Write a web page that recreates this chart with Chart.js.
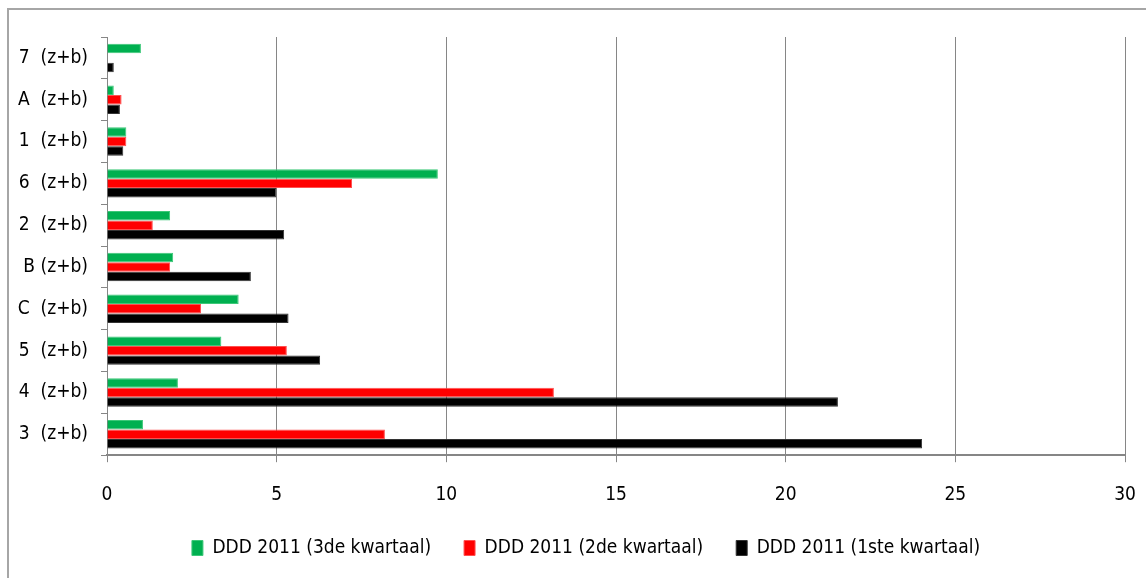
<!DOCTYPE html>
<html>
<head>
<meta charset="utf-8">
<script src="https://cdn.jsdelivr.net/npm/chart.js@4"></script>
<style>
  html, body { margin: 0; padding: 0; background: #ffffff; overflow: hidden; }
  #wrap { position: relative; width: 1146px; height: 578px; }
  #frame { position: absolute; left: 7px; top: 8px; width: 1200px; height: 640px;
           border-left: 2px solid #a6a6a6; border-top: 2px solid #a6a6a6; }
  canvas { position: absolute; left: 0; top: 0; }
</style>
</head>
<body>
<div id="wrap">
  <div id="frame"></div>
  <canvas id="c" width="1146" height="578"></canvas>
</div>
<script>
// Categories, listed from top to bottom of the chart
const categories = ['7  (z+b)', 'A  (z+b)', '1  (z+b)', '6  (z+b)', '2  (z+b)',
                    'B (z+b)', 'C  (z+b)', '5  (z+b)', '4  (z+b)', '3  (z+b)'];

// DDD per quarter of 2011
const ddd2011Q3 = [1.0, 0.2, 0.57, 9.75, 1.86, 1.95, 3.88, 3.37, 2.09, 1.06];
const ddd2011Q2 = [0, 0.43, 0.57, 7.22, 1.35, 1.86, 2.77, 5.3, 13.17, 8.19];
const ddd2011Q1 = [0.2, 0.38, 0.48, 4.99, 5.22, 4.24, 5.35, 6.28, 21.54, 24.02];

const seriesNames = ['DDD 2011 (3de kwartaal)', 'DDD 2011 (2de kwartaal)', 'DDD 2011 (1ste kwartaal)'];

const xTicks = { min: 0, max: 30, step: 5 };

const FONT = '"Liberation Sans Narrow", "DejaVu Sans Condensed", "Arial Narrow", sans-serif';

// Places the legend row below the plot, centred on a fixed point
const legendPlacement = {
  id: 'legendPlacement',
  afterLayout(chart, args, opts) {
    const lg = chart.legend;
    if (!lg) return;
    const pad = lg.options.labels.padding;
    const fs = lg.options.labels.font.size;
    const dy = (opts.centerY - pad - fs / 2) - lg.top;
    const dx = opts.centerX - (lg.left + lg.right) / 2;
    lg.top += dy; lg.bottom += dy;
    lg.left += dx; lg.right += dx;
  }
};

new Chart(document.getElementById('c'), {
  type: 'bar',
  data: {
    labels: categories,
    datasets: [
      { label: seriesNames[0], data: ddd2011Q3, backgroundColor: '#00b050', borderColor: '#3cc878', borderWidth: 1 },
      { label: seriesNames[1], data: ddd2011Q2, backgroundColor: '#ff0000', borderColor: '#ff5050', borderWidth: 1 },
      { label: seriesNames[2], data: ddd2011Q1, backgroundColor: '#000000', borderColor: '#333333', borderWidth: 1 }
    ]
  },
  plugins: [legendPlacement],
  options: {
    indexAxis: 'y',
    responsive: false,
    animation: false,
    devicePixelRatio: 1,
    categoryPercentage: 0.68,
    barPercentage: 1.0,
    layout: { padding: { left: 15, right: 21, top: 37, bottom: -11 } },
    plugins: {
      tooltip: { enabled: false },
      legendPlacement: { centerX: 586, centerY: 548 },
      legend: {
        position: 'bottom',
        labels: {
          color: '#000000',
          font: { family: FONT, size: 19 },
          boxWidth: 11,
          boxHeight: 15,
          padding: 33,
          useBorderRadius: false
        }
      }
    },
    scales: {
      x: {
        min: xTicks.min,
        max: xTicks.max,
        afterFit: (scale) => { scale.paddingLeft = 0; scale.paddingRight = 0; },
        ticks: {
          stepSize: xTicks.step,
          color: '#000000',
          font: { family: FONT, size: 19 },
          padding: 21
        },
        grid: {
          color: '#868686',
          lineWidth: 1,
          drawTicks: true,
          tickLength: 7
        },
        border: { display: true, color: '#868686', width: 2 }
      },
      y: {
        afterFit: (scale) => { scale.width = 92; },
        ticks: {
          color: '#000000',
          font: { family: FONT, size: 19 },
          padding: 13
        },
        grid: {
          offset: true,
          drawOnChartArea: false,
          drawTicks: true,
          tickLength: 6,
          color: '#868686'
        },
        border: { display: true, color: '#868686', width: 1 }
      }
    }
  }
});
</script>
</body>
</html>
